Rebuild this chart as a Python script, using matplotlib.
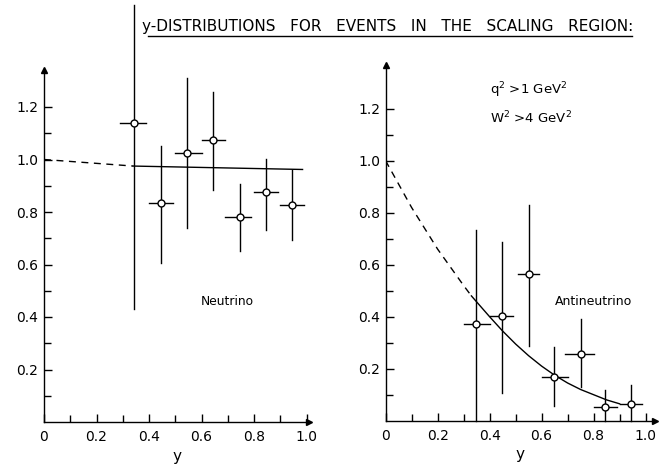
import matplotlib
matplotlib.use("Agg")
import matplotlib.pyplot as plt

plt.rcParams['font.family'] = ['DejaVu Sans']

# Neutrino data: bin centre, value, x half-width, error bar low/high
nu_y = [0.343, 0.447, 0.545, 0.644, 0.748, 0.847, 0.946]
nu_val = [1.14, 0.835, 1.025, 1.076, 0.78, 0.877, 0.828]
nu_xlo = [0.29, 0.40, 0.50, 0.60, 0.69, 0.80, 0.90]
nu_xhi = [0.39, 0.49, 0.60, 0.69, 0.79, 0.89, 0.99]
nu_lo = [0.43, 0.607, 0.74, 0.883, 0.65, 0.733, 0.695]
nu_hi = [1.59, 1.05, 1.31, 1.257, 0.905, 1.003, 0.96]

# Neutrino fit line (dashed extrapolation, solid in data region)
nu_fit_dash_x = [0.0, 0.34]
nu_fit_dash_v = [1.0, 0.975]
nu_fit_x = [0.34, 0.985]
nu_fit_v = [0.975, 0.962]

# Antineutrino data
an_y = [0.348, 0.449, 0.552, 0.648, 0.750, 0.844, 0.943]
an_val = [0.371, 0.403, 0.564, 0.169, 0.257, 0.054, 0.064]
an_xlo = [0.30, 0.40, 0.51, 0.60, 0.69, 0.80, 0.90]
an_xhi = [0.40, 0.49, 0.59, 0.70, 0.80, 0.89, 0.985]
an_lo = [0.0, 0.105, 0.287, 0.057, 0.13, 0.0, 0.0]
an_hi = [0.733, 0.688, 0.83, 0.282, 0.39, 0.118, 0.137]

# Antineutrino fit curve
an_fit_dash_x = [0.0, 0.05, 0.10, 0.15, 0.20, 0.25, 0.30, 0.33]
an_fit_dash_v = [1.0, 0.91, 0.82, 0.74, 0.66, 0.59, 0.52, 0.48]
an_fit_x = [0.33, 0.40, 0.45, 0.50, 0.55, 0.60, 0.65, 0.70, 0.75, 0.80, 0.85, 0.90]
an_fit_v = [0.48, 0.40, 0.345, 0.295, 0.25, 0.21, 0.175, 0.145, 0.12, 0.10, 0.08, 0.065]

major_ticks = [0, 0.2, 0.4, 0.6, 0.8, 1.0]
major_labels = ["0", "0.2", "0.4", "0.6", "0.8", "1.0"]
y_ticks = [0.2, 0.4, 0.6, 0.8, 1.0, 1.2]
y_labels = ["0.2", "0.4", "0.6", "0.8", "1.0", "1.2"]
minor_ticks = [0.1, 0.3, 0.5, 0.7, 0.9]
y_minor = [0.1, 0.3, 0.5, 0.7, 0.9, 1.1]

W, H = 667, 470
fig = plt.figure(figsize=(W / 100, H / 100), dpi=100)

lw = 1.0


def make_axes(left_px, bottom_px, px_per_unit, xmax, ymax):
    ax = fig.add_axes([left_px / W, bottom_px / H,
                       px_per_unit * xmax / W, px_per_unit * ymax / H])
    ax.set_xlim(0, xmax)
    ax.set_ylim(0, ymax)
    for s in ("top", "right"):
        ax.spines[s].set_visible(False)
    for s in ("left", "bottom"):
        ax.spines[s].set_linewidth(lw)
    ax.set_xticks(major_ticks)
    ax.set_xticklabels(major_labels)
    ax.set_xticks(minor_ticks, minor=True)
    ax.set_yticks(y_ticks)
    ax.set_yticklabels(y_labels)
    ax.set_yticks(y_minor, minor=True)
    ax.tick_params(which="both", direction="in", width=lw, labelsize=10)
    ax.tick_params(which="major", length=6)
    ax.tick_params(which="minor", length=5)
    ax.tick_params(axis="x", pad=6)
    ax.tick_params(axis="y", pad=4)
    ax.set_facecolor("none")
    # axis arrows
    ax.plot(1, 0, ">k", transform=ax.transAxes, clip_on=False, markersize=5)
    ax.plot(0, 1, "^k", transform=ax.transAxes, clip_on=False, markersize=5)
    ax.set_xlabel("y", fontsize=11, labelpad=3)
    return ax


def draw_points(ax, yc, val, xlo, xhi, lo, hi):
    for x, v, a, b, l, h in zip(yc, val, xlo, xhi, lo, hi):
        ax.plot([a, b], [v, v], color="k", lw=lw, clip_on=False)
        ax.plot([x, x], [l, h], color="k", lw=lw, clip_on=False)
    ax.plot(yc, val, "o", mfc="white", mec="k", mew=1.0, ms=5, zorder=5,
            clip_on=False)


ax1 = make_axes(44, 48, 262.5, 1.01, 1.34)
ax1.plot(nu_fit_dash_x, nu_fit_dash_v, color="k", lw=lw, ls=(0, (5, 4)))
ax1.plot(nu_fit_x, nu_fit_v, color="k", lw=lw)
draw_points(ax1, nu_y, nu_val, nu_xlo, nu_xhi, nu_lo, nu_hi)
ax1.text(0.70, 0.46, "Neutrino", fontsize=8.8, ha="center", va="center")

ax2 = make_axes(385.6, 49.3, 260, 1.036, 1.37)
ax2.plot(an_fit_dash_x, an_fit_dash_v, color="k", lw=lw, ls=(0, (5, 4)))
ax2.plot(an_fit_x, an_fit_v, color="k", lw=lw)
draw_points(ax2, an_y, an_val, an_xlo, an_xhi, an_lo, an_hi)
ax2.text(0.80, 0.46, "Antineutrino", fontsize=9, ha="center", va="center")
ax2.text(0.40, 1.27, r"q$^2$ >1 GeV$^2$", fontsize=9.5, ha="left", va="center")
ax2.text(0.40, 1.165, r"W$^2$ >4 GeV$^2$", fontsize=9.5, ha="left", va="center")

# Title with underline
fig.text(142 / W, 1 - 27 / H,
         "y-DISTRIBUTIONS   FOR   EVENTS   IN   THE   SCALING   REGION:",
         fontsize=11, ha="left", va="center")
fig.add_artist(plt.Line2D([148 / W, 632 / W], [1 - 36 / H, 1 - 36 / H],
                          color="k", lw=lw))

fig.savefig("out.png", dpi=100)
